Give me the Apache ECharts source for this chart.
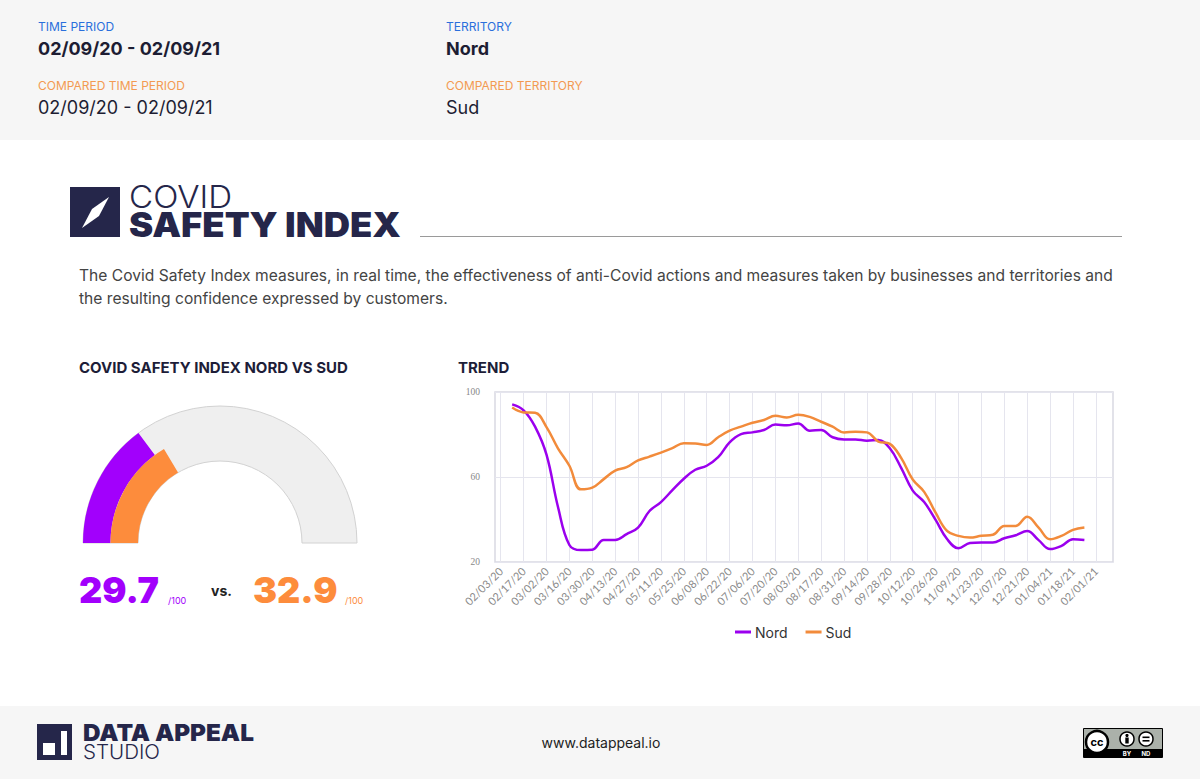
<!DOCTYPE html>
<html><head><meta charset="utf-8">
<script src="https://cdn.jsdelivr.net/npm/echarts@6/dist/echarts.min.js"></script>
<style>html,body{margin:0;padding:0;background:#fff}#c{width:1200px;height:779px}</style>
</head><body><div id="c"></div>
<script>
// ---- data ----
const weeks = ['02/03/20','02/10/20','02/17/20','02/24/20','03/02/20','03/09/20','03/16/20','03/23/20','03/30/20','04/06/20','04/13/20','04/20/20','04/27/20','05/04/20','05/11/20','05/18/20','05/25/20','06/01/20','06/08/20','06/15/20','06/22/20','06/29/20','07/06/20','07/13/20','07/20/20','07/27/20','08/03/20','08/10/20','08/17/20','08/24/20','08/31/20','09/07/20','09/14/20','09/21/20','09/28/20','10/05/20','10/12/20','10/19/20','10/26/20','11/02/20','11/09/20','11/16/20','11/23/20','11/30/20','12/07/20','12/14/20','12/21/20','12/28/20','01/04/21','01/11/21','01/18/21','01/25/21','02/01/21','02/08/21'];
const nord = [null,94.2,91.4,83.7,70.5,46,28,25.6,25.8,30.4,30.4,33.1,36.2,44,48.2,53.8,59.2,63.4,65.3,69.3,76.3,80.2,81,82.1,84.7,84.3,85.2,81.8,82.1,78.7,77.7,77.7,77.1,77.4,73.5,64.2,53.6,48.2,39.8,30.8,26.5,28.9,29.2,29.2,31.2,32.6,34.6,30.3,26.1,27.6,30.7,30.4,null,null];
const sud = [null,92.7,90.4,90.2,83.5,73.5,65.3,54.2,55,59,63,64.6,67.8,69.6,71.5,73.6,75.9,75.8,75.1,78.7,81.8,83.7,85.5,86.8,88.8,88,89.3,88.3,86,83.7,81,81.3,81,76.7,75.6,68.9,58.8,53,43.2,34.6,32.3,31.5,32.3,32.8,37,37,41.3,36.2,30.7,32.3,35.1,36.2,null,null];
const seriesNames = ['Nord','Sud'];
const yMin = 20, yMax = 100, yStep = 40;
const gaugeValues = [29.7, 32.9];
const gaugeMax = 100;
const periodMain = '02/09/20 - 02/09/21';
const periodCompared = '02/09/20 - 02/09/21';

// ---- style ----
const PURPLE = '#9b00ee', ORANGE = '#f28b3b';
const GP = '#a200fc', GO = '#fd8c3c';
const NAVY = '#25264a';
const F = 'Inter, "Noto Sans", sans-serif';

const chart = echarts.init(document.getElementById('c'), null, {renderer: 'svg'});

function txt(text, x, y, size, color, weight, extra) {
  return {type: 'text', x: x, y: y, style: Object.assign({text: text, fill: color, fontSize: size, fontWeight: weight || 'normal', fontFamily: F, textVerticalAlign: 'middle'}, extra || {})};
}

const gc = [220, 543];
const rIn = 82, rMid = 109.5, rOut = 137;

function gaugePie(value, radius, color, name) {
  return {
    type: 'pie', center: gc, radius: radius, startAngle: 180, clockwise: true,
    silent: true, label: {show: false}, labelLine: {show: false}, animation: false,
    emphasis: {disabled: true},
    data: [
      {name: name, value: value, itemStyle: {color: color, borderWidth: 0}},
      {name: name + ' rest', value: gaugeMax - value, itemStyle: {color: 'rgba(0,0,0,0)', borderWidth: 0}},
      {name: name + ' hidden', value: gaugeMax, itemStyle: {color: 'rgba(0,0,0,0)', borderWidth: 0}}
    ]
  };
}

const graphic = [
  {type: 'rect', z: -10, shape: {x: 0, y: 0, width: 1200, height: 140}, style: {fill: '#f6f6f6'}},
  {type: 'rect', z: -10, shape: {x: 0, y: 706, width: 1200, height: 73}, style: {fill: '#f6f6f6'}},
  txt('TIME PERIOD', 38, 26, 12, '#2a6fdc'),
  txt(periodMain, 38, 48, 18, '#1d1d33', 'bold'),
  txt('COMPARED TIME PERIOD', 38, 85, 12, '#f39a52'),
  txt(periodCompared, 38, 107, 18, '#1d1d33'),
  txt('TERRITORY', 446, 26, 12, '#2a6fdc'),
  txt(seriesNames[0], 446, 48, 18, '#1d1d33', 'bold'),
  txt('COMPARED TERRITORY', 446, 85, 12, '#f39a52'),
  txt(seriesNames[1], 446, 107, 18, '#1d1d33'),
  // logo
  {type: 'rect', shape: {x: 70, y: 187, width: 50, height: 50}, style: {fill: NAVY}},
  {type: 'polygon', shape: {points: [[82, 228], [92, 209], [109, 197], [99, 216]]}, style: {fill: '#fff'}},
  {type: 'text', x: 129, y: 184, scaleX: 1.07, style: {
    text: '{a|COVID}\n{b|SAFETY INDEX}', textVerticalAlign: 'top', fill: NAVY,
    rich: {
      a: {fontSize: 31, fontWeight: 300, fontFamily: F, lineHeight: 26, fill: NAVY},
      b: {fontSize: 34, fontWeight: 900, fontFamily: F, lineHeight: 28, fill: NAVY}
    }
  }},
  {type: 'line', shape: {x1: 420, y1: 236.5, x2: 1122, y2: 236.5}, style: {stroke: '#9a9a9a', lineWidth: 1}},
  txt('The Covid Safety Index measures, in real time, the effectiveness of anti-Covid actions and measures taken by businesses and territories and', 79, 275, 15.6, '#444'),
  txt('the resulting confidence expressed by customers.', 79, 298, 15.6, '#444'),
  txt('COVID SAFETY INDEX NORD VS SUD', 79, 367, 15, '#1d1d38', 'bold'),
  txt('TREND', 458, 367, 15, '#1d1d38', 'bold'),
  // gauge numbers
  txt(gaugeValues[0].toFixed(1), 79, 590, 36, GP, 900),
  txt('/' + gaugeMax, 168, 600, 9, GP),
  txt('vs.', 211, 590, 14, '#222', 'bold'),
  txt(gaugeValues[1].toFixed(1), 253, 590, 36, GO, 900),
  txt('/' + gaugeMax, 345, 600, 9, GO),
  // footer
  {type: 'rect', shape: {x: 37, y: 724, width: 35, height: 36}, style: {fill: NAVY}},
  {type: 'rect', shape: {x: 43, y: 743, width: 12, height: 12}, style: {fill: '#fff'}},
  {type: 'rect', shape: {x: 61, y: 731, width: 6, height: 24}, style: {fill: '#fff'}},
  {type: 'text', x: 83, y: 723.5, scaleX: 1.055, style: {
    text: '{a|DATA APPEAL}\n{b|STUDIO}', textVerticalAlign: 'top', fill: NAVY,
    rich: {
      a: {fontSize: 23, fontWeight: 900, fontFamily: F, lineHeight: 19, fill: NAVY},
      b: {fontSize: 19.5, fontWeight: 300, fontFamily: F, lineHeight: 19, fill: NAVY}
    }
  }},
  txt('www.datappeal.io', 601, 742, 14, '#222', 'normal', {textAlign: 'center'}),
  // CC badge
  {type: 'rect', shape: {x: 1083.5, y: 728.5, width: 79, height: 29}, style: {fill: '#abb1aa', stroke: '#000', lineWidth: 1}},
  {type: 'rect', shape: {x: 1084, y: 749, width: 78, height: 8}, style: {fill: '#000'}},
  {type: 'circle', shape: {cx: 1097, cy: 742, r: 11}, style: {fill: '#fff', stroke: '#000', lineWidth: 2.5}},
  txt('cc', 1097, 742, 11, '#000', 'bold', {textAlign: 'center'}),
  {type: 'circle', shape: {cx: 1127, cy: 739, r: 7}, style: {fill: '#fff', stroke: '#000', lineWidth: 1.5}},
  {type: 'circle', shape: {cx: 1127, cy: 735.5, r: 1.6}, style: {fill: '#000'}},
  {type: 'rect', shape: {x: 1125.3, y: 737.5, width: 3.4, height: 6}, style: {fill: '#000'}},
  {type: 'circle', shape: {cx: 1146, cy: 739, r: 7}, style: {fill: '#fff', stroke: '#000', lineWidth: 1.5}},
  {type: 'rect', shape: {x: 1142.5, y: 736.5, width: 7, height: 1.6}, style: {fill: '#000'}},
  {type: 'rect', shape: {x: 1142.5, y: 740, width: 7, height: 1.6}, style: {fill: '#000'}},
  txt('BY', 1127, 753, 6, '#fff', 'bold', {textAlign: 'center'}),
  txt('ND', 1146, 753, 6, '#fff', 'bold', {textAlign: 'center'})
];

const option = {
  backgroundColor: '#fff',
  animation: false,
  textStyle: {fontFamily: F},
  graphic: graphic,
  grid: {left: 495, top: 392, width: 618, height: 170, show: true, borderColor: '#d9d9e2', borderWidth: 1.5, backgroundColor: 'transparent'},
  legend: {
    data: seriesNames, left: 730, top: 620, icon: 'rect', itemWidth: 16, itemHeight: 3, itemGap: 18, itemStyle: {borderWidth: 0},
    textStyle: {fontSize: 14, color: '#333', fontFamily: F, padding: [0, 0, 0, -1]}
  },
  xAxis: {
    type: 'category', data: weeks, boundaryGap: true,
    axisLine: {show: false}, axisTick: {show: false},
    axisLabel: {interval: 1, rotate: 45, fontSize: 11, color: '#8a8a8a', margin: 7, fontFamily: 'Lato, sans-serif'},
    splitLine: {show: true, interval: 1, alignWithLabel: true, lineStyle: {color: '#e5e5ee', width: 1}}
  },
  yAxis: {
    type: 'value', min: yMin, max: yMax, interval: yStep,
    axisLine: {show: false}, axisTick: {show: false},
    axisLabel: {fontSize: 9.5, color: '#888', margin: 15, fontFamily: '"Liberation Serif", "DejaVu Serif", serif'},
    splitLine: {lineStyle: {color: '#e5e5ee', width: 1}}
  },
  series: [
    {
      type: 'pie', center: gc, radius: [rIn, rOut], startAngle: 180, clockwise: true,
      silent: true, label: {show: false}, labelLine: {show: false}, emphasis: {disabled: true},
      data: [
        {name: 'track', value: gaugeMax, itemStyle: {color: '#efefef', borderColor: '#d2d2d2', borderWidth: 1}},
        {name: 'track hidden', value: gaugeMax, itemStyle: {color: 'rgba(0,0,0,0)', borderWidth: 0}}
      ]
    },
    gaugePie(gaugeValues[0], [rMid, rOut], GP, seriesNames[0] + ' index'),
    gaugePie(gaugeValues[1], [rIn, rMid], GO, seriesNames[1] + ' index'),
    {name: seriesNames[0], type: 'line', data: nord, smooth: 0.4, symbol: 'none', connectNulls: false,
     lineStyle: {color: PURPLE, width: 2.5}, itemStyle: {color: PURPLE}},
    {name: seriesNames[1], type: 'line', data: sud, smooth: 0.4, symbol: 'none', connectNulls: false,
     lineStyle: {color: ORANGE, width: 2.5}, itemStyle: {color: ORANGE}}
  ]
};
chart.setOption(option);
</script>
</body></html>
